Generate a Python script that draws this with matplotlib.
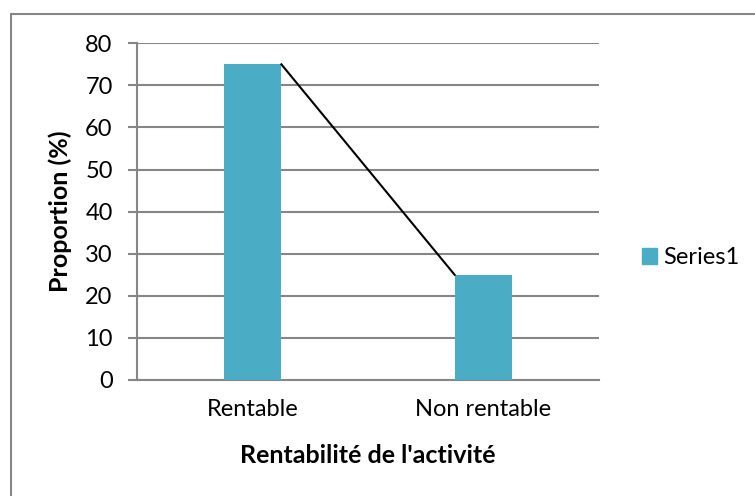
import matplotlib
matplotlib.use("Agg")
import matplotlib.pyplot as plt
from matplotlib.patches import Rectangle, Patch

plt.rcParams['font.family'] = ['Lato', 'DejaVu Sans']

categories = ['Rentable', 'Non rentable']
values = [75, 25]
series_name = 'Series1'
yticks = [0, 10, 20, 30, 40, 50, 60, 70, 80]

bar_color = '#4BACC6'
grid_color = '#868686'
W = 755
H = 496

fig = plt.figure(figsize=(W / 100, H / 100), dpi=100)
ax = fig.add_axes([137 / W, 1 - 380 / H, (599 - 137) / W, (380 - 43.3) / H])

xs = list(range(len(categories)))
width = 0.25
ax.bar(xs, values, width=width, color=bar_color, zorder=3)
# connector line from top-right of first bar to top-left of second bar
ax.plot([xs[0] + width / 2, xs[1] - width / 2], values, color='black',
        linewidth=1.5, zorder=4)

ax.set_xlim(-0.5, len(categories) - 0.5)
ax.set_ylim(0, 80)
ax.set_yticks(yticks)
ax.set_xticks(xs)
ax.set_xticklabels(categories)
ax.grid(axis='y', color=grid_color, linewidth=1.5, zorder=0)
ax.set_axisbelow(True)

for s in ['top', 'right']:
    ax.spines[s].set_visible(False)
for s in ['left', 'bottom']:
    ax.spines[s].set_color(grid_color)
    ax.spines[s].set_linewidth(1.5)
ax.tick_params(axis='y', length=6.5, width=1.5, color=grid_color, pad=11,
               labelsize=17)
ax.tick_params(axis='x', length=0, pad=14, labelsize=17)

ax.set_ylabel('Proportion (%)', fontsize=18, fontweight='bold')
ax.yaxis.set_label_coords(-0.14, 0.5)
ax.set_xlabel("Rentabilité de l'activité", fontsize=18, fontweight='bold')
ax.xaxis.set_label_coords(0.5, -0.19)

fig.legend(handles=[Patch(color=bar_color, label=series_name)],
           loc='center left', bbox_to_anchor=(642 / W, 1 - 258 / H),
           frameon=False, fontsize=17, handlelength=0.64, handleheight=0.64,
           handletextpad=0.25, borderpad=0, borderaxespad=0)

# outer chart border (left and top visible)
fig.patches.append(Rectangle((11 / W, -0.1), 1.2, 1 - 14 / H + 0.1,
                             transform=fig.transFigure, fill=False,
                             edgecolor='#868686', linewidth=1.5))

fig.savefig('out.png', dpi=100)
